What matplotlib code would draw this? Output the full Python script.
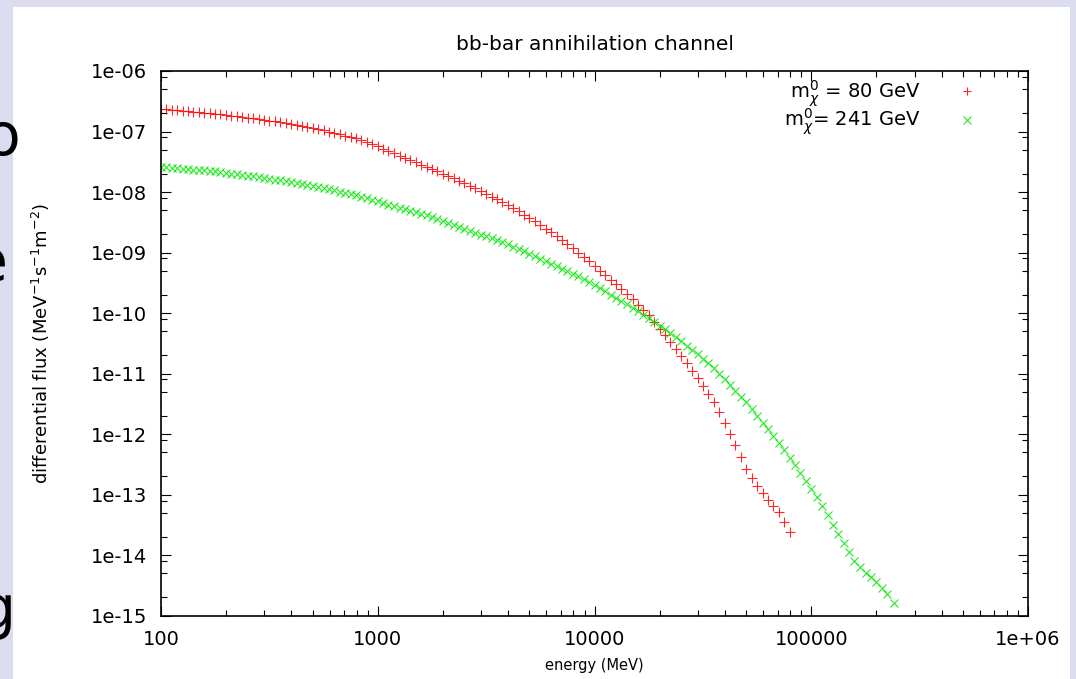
import numpy as np
import matplotlib
matplotlib.use("Agg")
import matplotlib.pyplot as plt
from matplotlib.patches import Rectangle
from matplotlib.ticker import LogLocator, NullFormatter

# photon energy (MeV) and log10 of the differential flux
energy_80 = [100, 106, 112, 119, 126, 133, 141, 150, 158, 168, 178, 188, 200, 211, 224, 237, 251, 266, 282, 299,
             316, 335, 355, 376, 398, 422, 447, 473, 501, 531, 562, 596, 631, 668, 708, 750, 794, 841, 891, 944,
             1000, 1060, 1120, 1190, 1260, 1330, 1410, 1500, 1580, 1680, 1780, 1880, 2000, 2110, 2240, 2370,
             2510, 2660, 2820, 2990, 3160, 3350, 3550, 3760, 3980, 4220, 4470, 4730, 5010, 5310, 5620, 5960,
             6310, 6680, 7080, 7500, 7940, 8410, 8910, 9440,
             10000, 10600, 11200, 11900, 12600, 13300, 14100, 15000, 15800, 16800, 17800, 18800, 20000, 21100,
             22400, 23700, 25100, 26600, 28200, 29900, 31600, 33500, 35500, 37600, 39800, 42200, 44700, 47300,
             50100, 53100, 56200, 59600, 63100, 66800, 70800, 75000, 80000]
logflux_80 = [-6.628, -6.635, -6.643, -6.650, -6.658, -6.665, -6.673, -6.679, -6.686, -6.695,
              -6.704, -6.715, -6.726, -6.736, -6.747, -6.758, -6.769, -6.779, -6.790, -6.804,
              -6.818, -6.832, -6.846, -6.861, -6.876, -6.890, -6.904, -6.920, -6.936, -6.958,
              -6.980, -7.001, -7.023, -7.044, -7.066, -7.087, -7.109, -7.140, -7.172, -7.209,
              -7.246, -7.284, -7.322, -7.362, -7.402, -7.438, -7.474, -7.509, -7.545, -7.582,
              -7.620, -7.658, -7.696, -7.735, -7.775, -7.815, -7.855, -7.896, -7.937, -7.983,
              -8.030, -8.075, -8.121, -8.167, -8.213, -8.267, -8.321, -8.376, -8.431, -8.486,
              -8.542, -8.603, -8.664, -8.731, -8.798, -8.865, -8.932, -9.000, -9.068, -9.144,
              -9.221, -9.298, -9.375, -9.451, -9.527, -9.609, -9.691, -9.775, -9.860, -9.947,
              -10.035, -10.145, -10.256, -10.367, -10.478, -10.592, -10.706, -10.830, -10.954, -11.078,
              -11.203, -11.332, -11.461, -11.641, -11.821, -12.003, -12.185, -12.382, -12.579, -12.721,
              -12.863, -12.975, -13.088, -13.184, -13.281, -13.450, -13.620]

energy_241 = [100, 106, 112, 119, 126, 133, 141, 150, 158, 168, 178, 188, 200, 211, 224, 237, 251, 266, 282, 299,
              316, 335, 355, 376, 398, 422, 447, 473, 501, 531, 562, 596, 631, 668, 708, 750, 794, 841, 891, 944,
              1000, 1060, 1120, 1190, 1260, 1330, 1410, 1500, 1580, 1680, 1780, 1880, 2000, 2110, 2240, 2370,
              2510, 2660, 2820, 2990, 3160, 3350, 3550, 3760, 3980, 4220, 4470, 4730, 5010, 5310, 5620, 5960,
              6310, 6680, 7080, 7500, 7940, 8410, 8910, 9440,
              10000, 10600, 11200, 11900, 12600, 13300, 14100, 15000, 15800, 16800, 17800, 18800, 20000, 21100,
              22400, 23700, 25100, 26600, 28200, 29900, 31600, 33500, 35500, 37600, 39800, 42200, 44700, 47300,
              50100, 53100, 56200, 59600, 63100, 66800, 70800, 75000, 79400, 84100, 89100, 94400,
              100000, 106000, 112000, 119000, 126000, 133000, 141000, 150000, 158000, 168000, 178000, 188000,
              200000, 211000, 224000, 241000]
logflux_241 = [-7.587, -7.594, -7.600, -7.607, -7.613, -7.621, -7.628, -7.635, -7.641, -7.651,
               -7.660, -7.672, -7.683, -7.695, -7.707, -7.719, -7.731, -7.743, -7.754, -7.767,
               -7.780, -7.794, -7.808, -7.822, -7.836, -7.850, -7.864, -7.879, -7.894, -7.914,
               -7.934, -7.954, -7.974, -7.994, -8.013, -8.032, -8.051, -8.076, -8.101, -8.128,
               -8.154, -8.181, -8.208, -8.235, -8.261, -8.287, -8.312, -8.337, -8.362, -8.387,
               -8.412, -8.442, -8.471, -8.504, -8.537, -8.570, -8.603, -8.636, -8.669, -8.702,
               -8.734, -8.766, -8.798, -8.831, -8.863, -8.902, -8.940, -8.981, -9.021, -9.062,
               -9.102, -9.143, -9.183, -9.225, -9.266, -9.308, -9.349, -9.391, -9.433, -9.485,
               -9.537, -9.590, -9.643, -9.695, -9.747, -9.803, -9.858, -9.914, -9.969, -10.025,
               -10.081, -10.145, -10.208, -10.271, -10.334, -10.399, -10.463, -10.537, -10.610, -10.683,
               -10.755, -10.830, -10.904, -11.000, -11.096, -11.191, -11.286, -11.381, -11.476, -11.586,
               -11.696, -11.808, -11.919, -12.032, -12.144, -12.266, -12.387, -12.515, -12.643, -12.771,
               -12.899, -13.042, -13.185, -13.342, -13.499, -13.651, -13.803, -13.947, -14.091, -14.195,
               -14.299, -14.367, -14.435, -14.538, -14.641, -14.793]

xticks = [100, 1000, 10000, 100000, 1e6]
xticklabels = ["100", "1000", "10000", "100000", "1e+06"]
yticks = [1e-6, 1e-7, 1e-8, 1e-9, 1e-10, 1e-11, 1e-12, 1e-13, 1e-14, 1e-15]
yticklabels = ["1e-06", "1e-07", "1e-08", "1e-09", "1e-10",
               "1e-11", "1e-12", "1e-13", "1e-14", "1e-15"]

W, H = 1076, 679
fig = plt.figure(figsize=(W / 100, H / 100), dpi=100, facecolor="#dcdcf0")

# white picture pasted on the slide
fig.add_artist(Rectangle((13 / W, 0), (1070 - 13) / W, 1 - 7 / H,
                         transform=fig.transFigure, facecolor="white",
                         edgecolor="none", zorder=-5))

# bits of slide text peeking out on the left
for s, xr, yb in [("o", 21, 155), ("e", 8, 281), ("g", 16, 628)]:
    fig.text(xr / W, 1 - yb / H, s, ha="right", va="baseline",
             fontsize=42, color="black", zorder=10)

ax = fig.add_axes([161 / W, 1 - 615.7 / H, (1028 - 161) / W, (615.7 - 71) / H])

ax.plot(energy_80, 10 ** np.array(logflux_80), ls="none", marker="+",
        ms=7.5, mew=0.8, color="#ff0000", alpha=0.85, label=r"m$_{\chi}^{0}$ = 80 GeV")
ax.plot(energy_241, 10 ** np.array(logflux_241), ls="none", marker="x",
        ms=6, mew=0.8, color="#00e600", alpha=0.85, label=r"m$_{\chi}^{0}$= 241 GeV")

ax.set_xscale("log")
ax.set_yscale("log")
ax.set_xlim(100, 1e6)
ax.set_ylim(1e-15, 1e-6)
ax.set_xticks(xticks)
ax.set_xticklabels(xticklabels)
ax.set_yticks(yticks)
ax.set_yticklabels(yticklabels)
ax.xaxis.set_minor_locator(LogLocator(base=10, subs=range(2, 10)))
ax.yaxis.set_minor_locator(LogLocator(base=10, subs=(2, 5, 8), numticks=20))
ax.xaxis.set_minor_formatter(NullFormatter())
ax.yaxis.set_minor_formatter(NullFormatter())
ax.tick_params(which="both", direction="in", top=True, right=True, labelsize=14)
ax.tick_params(which="major", length=7, width=0.8, pad=10)
ax.tick_params(which="minor", length=4, width=0.8)
for sp in ax.spines.values():
    sp.set_linewidth(1.2)

ax.set_title("bb-bar annihilation channel", fontsize=14.5, pad=15)
ax.set_xlabel("energy (MeV)", fontsize=10.5, labelpad=7)
ax.set_ylabel(r"differential flux (MeV$^{-1}$s$^{-1}$m$^{-2}$)", fontsize=13)
ax.yaxis.set_label_coords(-0.1257, 0.5)

leg = ax.legend(loc="upper right", bbox_to_anchor=(0.941, 0.987), frameon=False,
                markerfirst=False, numpoints=1, handlelength=1.0, handletextpad=1.9,
                borderaxespad=0, borderpad=0, labelspacing=-0.1, fontsize=14)
for h in leg.legend_handles:
    h.set_markersize(6)

fig.savefig("out.png", dpi=100, facecolor=fig.get_facecolor())
